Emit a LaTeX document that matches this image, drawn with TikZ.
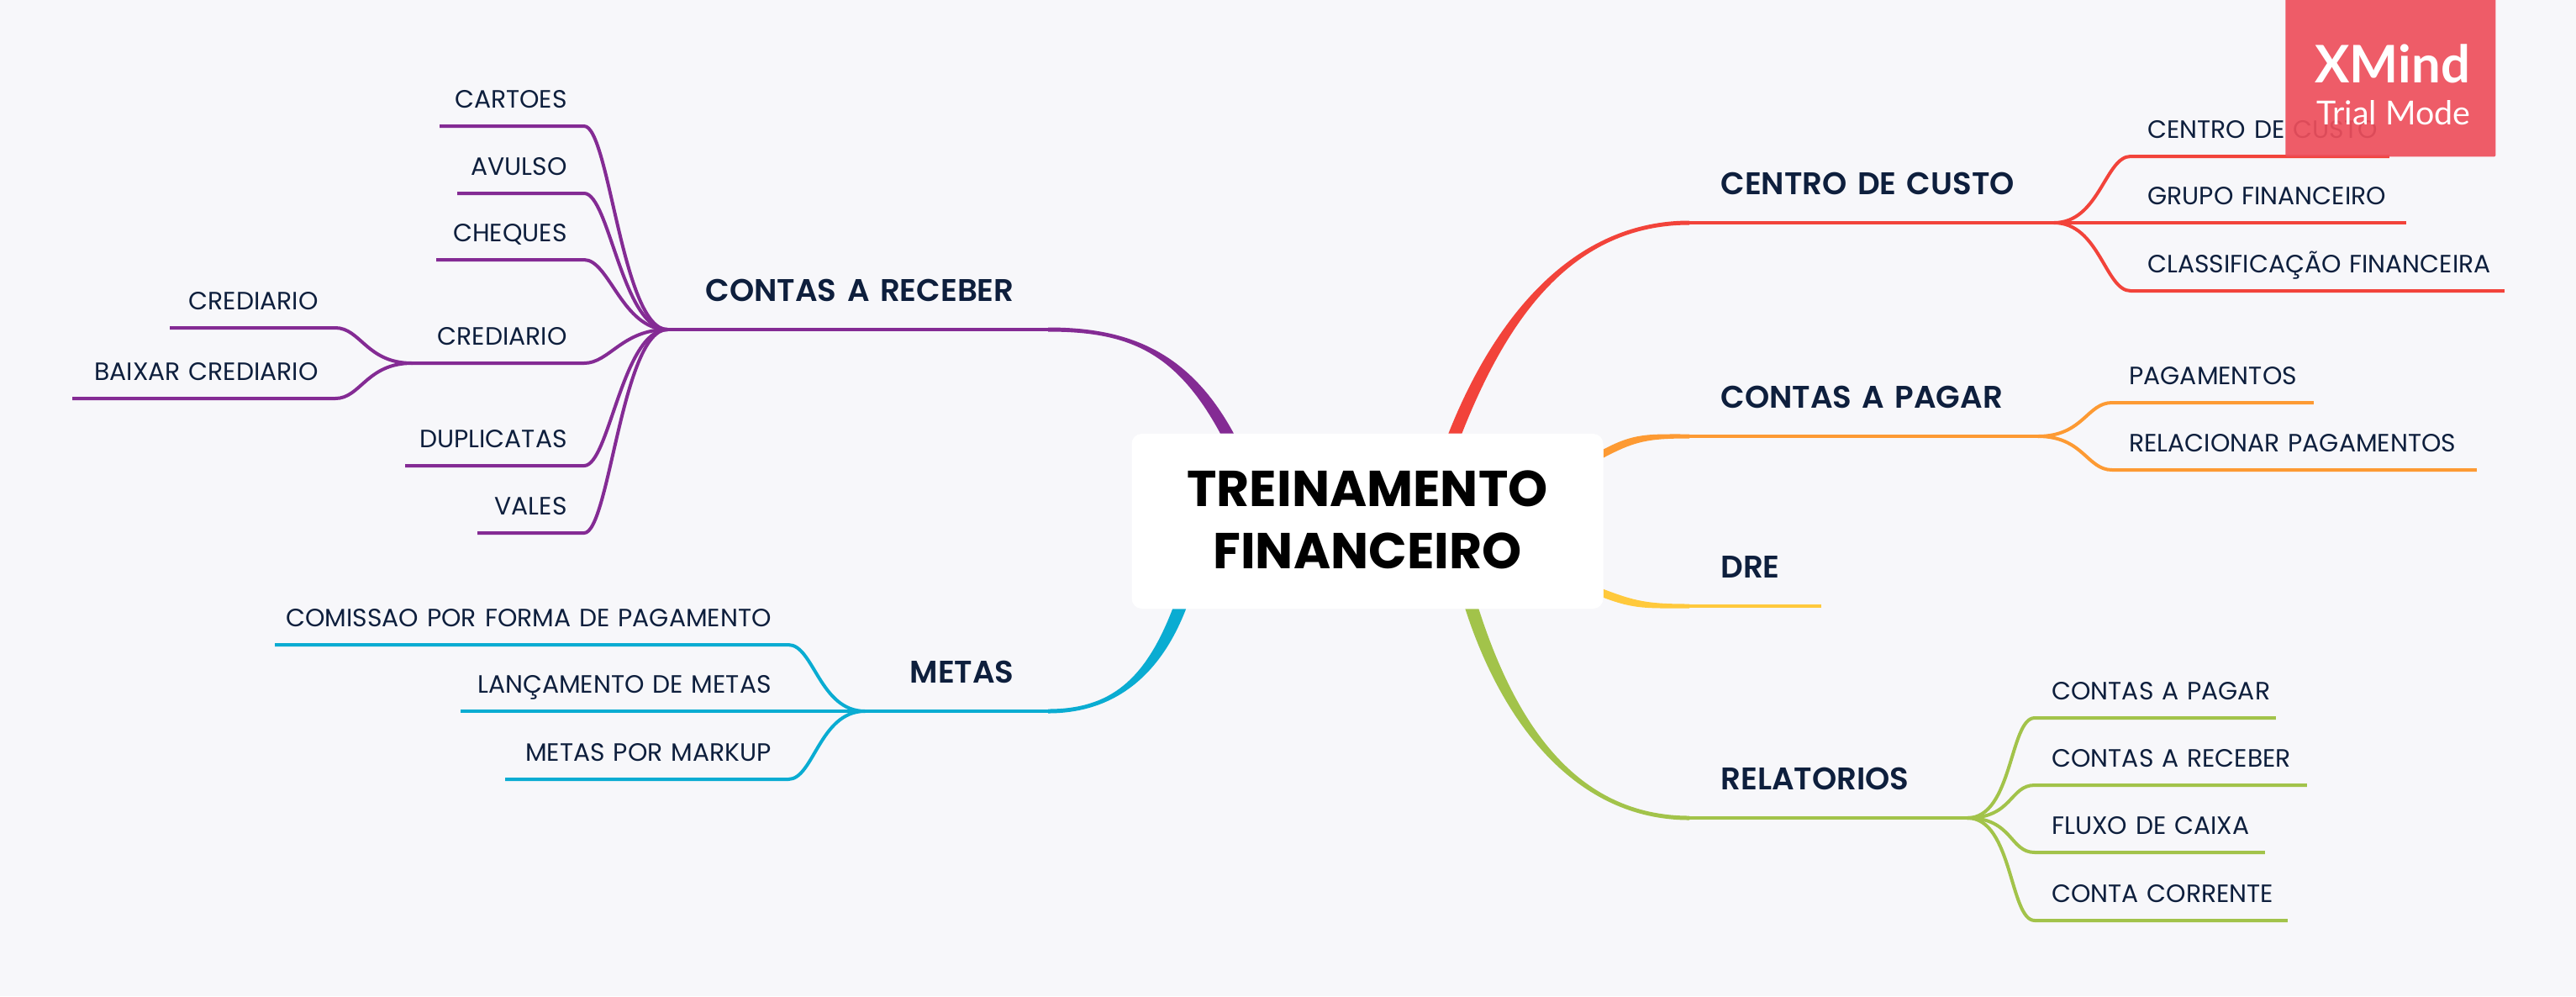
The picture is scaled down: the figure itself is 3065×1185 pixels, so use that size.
\documentclass[tikz,border=0pt]{standalone}
\usepackage{fontspec}
\setmainfont{Poppins}
\newfontfamily\badgefont{Lato}
\newfontfamily\headfont{Poppins SemiBold}
\usetikzlibrary{backgrounds}

\definecolor{paper}{HTML}{F7F7FA}
\definecolor{ink}{HTML}{0E1F3D}
\definecolor{redline}{HTML}{F2433A}
\definecolor{orangeline}{HTML}{FD9A33}
\definecolor{yellowline}{HTML}{FFC93C}
\definecolor{greenline}{HTML}{A2C34A}
\definecolor{cyanline}{HTML}{0AACD2}
\definecolor{purpleline}{HTML}{842B94}
\definecolor{badge}{HTML}{EE4F5C}

% tapered branch: colour, start key, half width, start, control, control, end
\newcommand{\branch}[7]{
  \fill[#1] ([#2=#3]#4) .. controls ([#2=#3]#5) and ([yshift=1.25pt]#6) .. ([yshift=1.25pt]#7)
    -- ([yshift=-1.25pt]#7) .. controls ([yshift=-1.25pt]#6) and ([#2=-1*(#3)]#5) .. ([#2=-1*(#3)]#4) -- cycle;
}

\tikzset{
  root node/.style={fill=white,rectangle,rounded corners=6pt,minimum width=280.5pt,minimum height=104pt,
    align=center,text depth=2pt,font=\fontsize{30}{37}\selectfont\bfseries,text=black},
  main right/.style={anchor=south west,inner xsep=0pt,inner ysep=16.5pt,text depth=0pt,align=left,
    text width=#1*.5pt,execute at begin node={\hspace*{18.5pt}},font=\headfont\fontsize{18.6}{20}\selectfont,text=ink},
  main left/.style={anchor=south east,inner xsep=0pt,inner ysep=16.5pt,text depth=0pt,align=right,
    text width=#1*.5pt,execute at end node={\hspace*{20pt}},font=\headfont\fontsize{18.6}{20}\selectfont,text=ink},
  leaf right/.style={anchor=south west,inner xsep=0pt,inner ysep=10.8pt,text depth=0pt,align=left,
    text width=#1*.5pt,execute at begin node={\hspace*{10pt}},font=\fontsize{14.9}{17}\selectfont,text=ink},
  leaf left/.style={anchor=south east,inner xsep=0pt,inner ysep=10.8pt,text depth=0pt,align=right,
    text width=#1*.5pt,execute at end node={\hspace*{10pt}},font=\fontsize{14.9}{17}\selectfont,text=ink},
  wire/.style={draw=#1,line width=2pt},
  go right/.style={out=0,in=180,out distance=27pt,in distance=15pt},
  go left/.style={out=180,in=0,out distance=27pt,in distance=15pt}
}

\begin{document}
\begin{tikzpicture}[x=.5pt,y=-.5pt]
  \useasboundingbox (0,0) rectangle (3065,1185);

  \node[root node] (root) at (1627,620) {TREINAMENTO\\FINANCEIRO};

  \node[main right=433] (custo) at (2010,265) {CENTRO DE CUSTO};
  \node[main right=414] (pagar) at (2010,519) {CONTAS A PAGAR};
  \node[main right=156] (dre) at (2010,721) {DRE};
  \node[main right=330] (relat) at (2010,973) {RELATORIOS};
  \node[main left=452] (receber) at (1247,392) {CONTAS A RECEBER};
  \node[main left=217] (metas) at (1247,846) {METAS};

  \node[leaf right=307] (custo1) at (2535,186) {CENTRO DE CUSTO};
  \node[leaf right=327] (custo2) at (2535,265) {GRUPO FINANCEIRO};
  \node[leaf right=444] (custo3) at (2535,346) {CLASSIFICAÇÃO FINANCEIRA};

  \node[leaf right=239] (pagar1) at (2513,479) {PAGAMENTOS};
  \node[leaf right=433] (pagar2) at (2513,559) {RELACIONAR PAGAMENTOS};

  \node[leaf right=286] (relat1) at (2421,854) {CONTAS A PAGAR};
  \node[leaf right=323] (relat2) at (2421,934) {CONTAS A RECEBER};
  \node[leaf right=273] (relat3) at (2421,1014) {FLUXO DE CAIXA};
  \node[leaf right=300] (relat4) at (2421,1095) {CONTA CORRENTE};

  \node[leaf left=171] (receber1) at (695,150) {CARTOES};
  \node[leaf left=150] (receber2) at (695,230) {AVULSO};
  \node[leaf left=175] (receber3) at (695,309) {CHEQUES};
  \node[leaf left=204] (receber4) at (695,432) {CREDIARIO};
  \node[leaf left=212] (receber5) at (695,554) {DUPLICATAS};
  \node[leaf left=126] (receber6) at (695,634) {VALES};
  \node[leaf left=196] (sub1) at (399,390) {CREDIARIO};
  \node[leaf left=312] (sub2) at (399,474) {BAIXAR CREDIARIO};

  \node[leaf left=610] (metas1) at (938,767) {COMISSAO POR FORMA DE PAGAMENTO};
  \node[leaf left=389] (metas2) at (938,846) {LANÇAMENTO DE METAS};
  \node[leaf left=336] (metas3) at (938,927) {METAS POR MARKUP};

  \begin{scope}[on background layer]
    \fill[paper] (0,0) rectangle (3065,1185);
    \branch{redline}{xshift}{-4pt}{root.45}{1785,380}{1870,265}{custo.south west}
    \branch{orangeline}{yshift}{2.5pt}{root.16.3}{1945,520}{1960,519}{pagar.south west}
    \branch{yellowline}{yshift}{2.5pt}{root.343.7}{1945,720}{1960,721}{dre.south west}
    \branch{greenline}{xshift}{4pt}{root.320.7}{1795,860}{1875,973}{relat.south west}
    \branch{purpleline}{xshift}{4pt}{root.148}{1406,416}{1340,392}{receber.south east}
    \branch{cyanline}{xshift}{-4pt}{root.205}{1370,810}{1320,846}{metas.south east}
  \end{scope}

  \draw[wire=redline] (custo.south west) -- (custo.south east);
  \draw[wire=orangeline] (pagar.south west) -- (pagar.south east);
  \draw[wire=yellowline] (dre.south west) -- (dre.south east);
  \draw[wire=greenline] (relat.south west) -- (relat.south east);
  \draw[wire=purpleline] (receber.south east) -- (receber.south west);
  \draw[wire=cyanline] (metas.south east) -- (metas.south west);

  \foreach \leaf in {custo1,custo2,custo3}
    \draw[wire=redline] (custo.south east) to[go right] (\leaf.south west) -- (\leaf.south east);
  \foreach \leaf in {pagar1,pagar2}
    \draw[wire=orangeline] (pagar.south east) to[go right] (\leaf.south west) -- (\leaf.south east);
  \foreach \leaf in {relat1,relat2,relat3,relat4}
    \draw[wire=greenline] (relat.south east) to[go right] (\leaf.south west) -- (\leaf.south east);
  \foreach \leaf in {receber1,receber2,receber3,receber4,receber5,receber6}
    \draw[wire=purpleline] (receber.south west) to[go left] (\leaf.south east) -- (\leaf.south west);
  \foreach \leaf in {sub1,sub2}
    \draw[wire=purpleline] (receber4.south west) to[go left] (\leaf.south east) -- (\leaf.south west);
  \foreach \leaf in {metas1,metas2,metas3}
    \draw[wire=cyanline] (metas.south west) to[go left] (\leaf.south east) -- (\leaf.south west);

  \node[fill=badge,fill opacity=.92,rectangle,rounded corners=1pt,minimum width=125pt,minimum height=97pt,anchor=north west] (badge) at (2719,-8) {};
  \node[anchor=base west,inner sep=0pt,text=white,font=\badgefont\fontsize{30.8}{32}\selectfont\bfseries] (badgetitle) at (2754,98) {XMind};
  \node[anchor=base west,inner sep=0pt,text=white,font=\badgefont\fontsize{19.7}{22}\selectfont] (badgemode) at (2756,148) {Trial Mode};
\end{tikzpicture}
\end{document}
